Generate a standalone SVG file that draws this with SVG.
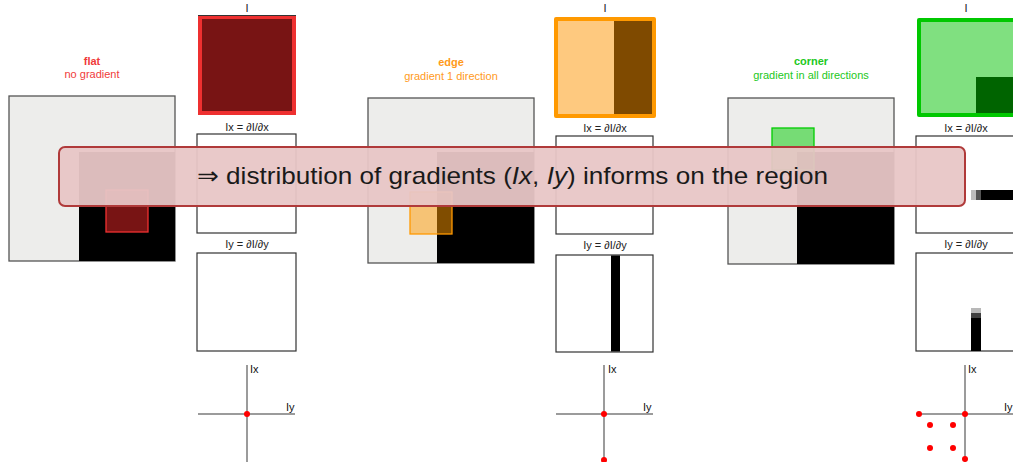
<svg xmlns="http://www.w3.org/2000/svg" width="1013" height="462" viewBox="0 0 1013 462">
  <style>
    .title { font-family: "Liberation Sans", Arial, sans-serif; font-size: 11px; text-anchor: middle; }
    .bold { font-weight: bold; }
    .lbl { font-family: "Liberation Sans", "DejaVu Sans", sans-serif; font-size: 11px; fill: #222; text-anchor: middle; }
    .axlbl { font-family: "Liberation Sans", sans-serif; font-size: 11px; fill: #111; }
    .img { fill: #ededeb; stroke: #555; stroke-width: 1.3; }
    .frame { fill: #fff; stroke: #333; stroke-width: 1.2; }
    .axis { stroke: #7a7a7a; stroke-width: 1.5; fill: none; }
    .dot { fill: #ff0000; }
    .banner-text { font-family: "Liberation Sans", "DejaVu Sans", sans-serif; font-size: 24px; fill: #1a1a1a; }
  </style>

  <!-- flat case -->
  <g id="flat">
    <text class="title bold" x="92" y="65" fill="#f03a3a">flat</text>
    <text class="title" x="92" y="78" fill="#f03a3a">no gradient</text>
    <rect class="img" x="9" y="96" width="166" height="165"/>
    <rect x="79" y="152" width="96" height="109" fill="#000"/>
    <rect x="106" y="190" width="42" height="42" fill="#f02828" fill-opacity="0.5" stroke="#f03030" stroke-width="1.3"/>
    <text class="lbl" x="247" y="12">I</text>
    <rect x="200" y="17" width="94" height="96" fill="#781414" stroke="#ee3030" stroke-width="4"/>
    <line x1="198" y1="15.5" x2="296" y2="15.5" stroke="#333" stroke-width="1"/>
    <text class="lbl" x="247" y="131">Ix = ∂I/∂x</text>
    <rect class="frame" x="197" y="134" width="99" height="99"/>
    <text class="lbl" x="247" y="248">Iy = ∂I/∂y</text>
    <rect class="frame" x="197" y="253" width="99" height="98"/>
    <line class="axis" x1="247" y1="365" x2="247" y2="462"/>
    <line class="axis" x1="198" y1="414" x2="295" y2="414"/>
    <text class="axlbl" x="250" y="373">Ix</text>
    <text class="axlbl" x="286" y="411">Iy</text>
    <circle class="dot" cx="247" cy="414" r="3"/>
  </g>

  <!-- edge case -->
  <g id="edge">
    <text class="title bold" x="451" y="66" fill="#ff9a1a">edge</text>
    <text class="title" x="451" y="80" fill="#ff9a1a">gradient 1 direction</text>
    <rect class="img" x="368" y="98" width="166" height="165"/>
    <rect x="437" y="152" width="97" height="111" fill="#000"/>
    <rect x="410" y="192" width="42" height="42" fill="#ff9900" fill-opacity="0.5" stroke="#ff9900" stroke-width="1.3"/>
    <text class="lbl" x="605" y="12">I</text>
    <rect x="556" y="19" width="98" height="97" fill="#fec97f" stroke="#ff9900" stroke-width="4" stroke-linejoin="round"/>
    <rect x="614" y="21" width="38" height="93" fill="#7f4a00"/>
    <text class="lbl" x="605" y="132">Ix = ∂I/∂x</text>
    <rect class="frame" x="556" y="136" width="97" height="98"/>
    <text class="lbl" x="605" y="249">Iy = ∂I/∂y</text>
    <rect class="frame" x="556" y="255" width="97" height="97"/>
    <rect x="611" y="255.5" width="9" height="96" fill="#000"/>
    <line class="axis" x1="604" y1="365" x2="604" y2="462"/>
    <line class="axis" x1="556" y1="414" x2="653" y2="414"/>
    <text class="axlbl" x="608" y="373">Ix</text>
    <text class="axlbl" x="643" y="411">Iy</text>
    <circle class="dot" cx="604" cy="414" r="3"/>
    <circle class="dot" cx="604" cy="460" r="3"/>
  </g>

  <!-- corner case -->
  <g id="corner">
    <text class="title bold" x="811" y="65" fill="#22c822">corner</text>
    <text class="title" x="811" y="79" fill="#22c822">gradient in all directions</text>
    <rect class="img" x="728" y="98" width="166" height="166"/>
    <rect x="797" y="152" width="97" height="112" fill="#000"/>
    <rect x="772" y="128" width="42" height="42" fill="#00cc00" fill-opacity="0.5" stroke="#00cc00" stroke-width="1.3"/>
    <text class="lbl" x="966" y="12">I</text>
    <rect x="919" y="20" width="100" height="95" fill="#80e080" stroke="#00c800" stroke-width="4" stroke-linejoin="round"/>
    <rect x="976" y="77" width="37" height="36" fill="#006400"/>
    <text class="lbl" x="966" y="132">Ix = ∂I/∂x</text>
    <rect class="frame" x="916" y="136" width="100" height="97"/>
    <rect x="971" y="190" width="5" height="10" fill="#bdbdbd"/>
    <rect x="976" y="190" width="5" height="10" fill="#555"/>
    <rect x="981" y="190" width="32" height="10" fill="#000"/>
    <text class="lbl" x="966" y="248">Iy = ∂I/∂y</text>
    <rect class="frame" x="916" y="253" width="100" height="98"/>
    <rect x="971" y="308" width="10" height="5" fill="#b8b8b8"/>
    <rect x="971" y="313" width="10" height="5" fill="#404040"/>
    <rect x="971" y="318" width="10" height="33" fill="#000"/>
    <line class="axis" x1="965" y1="365" x2="965" y2="462"/>
    <line class="axis" x1="917" y1="414" x2="1013" y2="414"/>
    <text class="axlbl" x="968" y="373">Ix</text>
    <text class="axlbl" x="1004" y="411">Iy</text>
    <circle class="dot" cx="965" cy="414" r="3"/>
    <circle class="dot" cx="919" cy="414" r="3"/>
    <circle class="dot" cx="965" cy="459" r="3"/>
    <circle class="dot" cx="930" cy="425" r="3"/>
    <circle class="dot" cx="953" cy="425" r="3"/>
    <circle class="dot" cx="930" cy="448" r="3"/>
    <circle class="dot" cx="953" cy="448" r="3"/>
  </g>

  <!-- overlay message -->
  <g id="banner">
    <rect x="59" y="147" width="906" height="59" rx="6" ry="6" fill="rgb(232,198,198)" fill-opacity="0.95" stroke="#b03a3a" stroke-width="2"/>
    <text class="banner-text" x="197" y="184" textLength="631" lengthAdjust="spacingAndGlyphs">⇒ distribution of gradients (<tspan font-style="italic">Ix</tspan>, <tspan font-style="italic">Iy</tspan>) informs on the region</text>
  </g>
</svg>
